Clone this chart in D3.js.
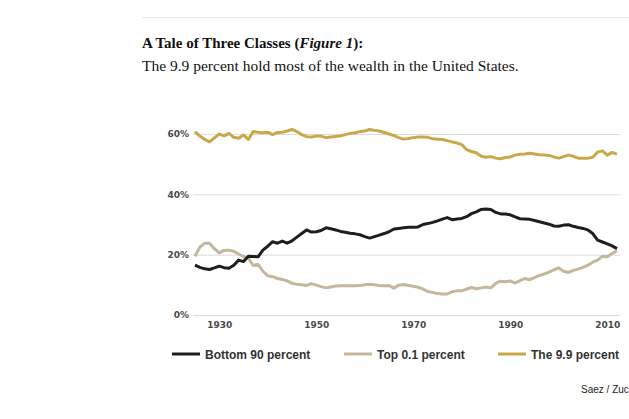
<!DOCTYPE html>
<html><head><meta charset="utf-8">
<script src="https://cdn.jsdelivr.net/npm/d3@7"></script>
<style>html,body{margin:0;padding:0;background:#fff;overflow:hidden}</style>
</head><body>
<svg id="chart" width="629" height="419"></svg>
<script>
const startYear = 1925;
const seriesNames = ["Bottom 90 percent", "Top 0.1 percent", "The 9.9 percent"];
const bottom90 = [16.5,15.8,15.3,15.1,15.6,16.2,15.7,15.5,16.5,18.2,17.7,19.5,19.4,19.3,21.5,22.8,24.3,23.8,24.5,23.8,24.6,25.8,27.0,28.2,27.5,27.6,28.0,28.9,28.6,28.2,27.7,27.4,27.1,26.9,26.6,26.0,25.5,26.0,26.5,27.0,27.6,28.5,28.7,28.9,29.1,29.1,29.2,30.0,30.3,30.7,31.2,31.8,32.3,31.6,31.8,32.0,32.6,33.6,34.2,35.0,35.1,35.0,34.0,33.5,33.5,33.2,32.5,31.9,31.8,31.7,31.3,30.9,30.5,30.1,29.5,29.4,29.8,29.9,29.4,29.0,28.7,28.2,27.0,24.8,24.2,23.6,22.9,22.0];
const top01 = [19.5,22.5,23.8,23.8,22.0,20.6,21.4,21.5,21.1,20.2,19.4,18.8,16.4,16.8,14.5,13.0,12.7,12.1,11.8,11.3,10.5,10.2,10.0,9.8,10.4,9.9,9.4,9.0,9.3,9.6,9.7,9.7,9.7,9.7,9.8,10.0,10.2,10.0,9.8,9.7,9.8,8.9,9.9,10.1,9.8,9.5,9.2,8.6,7.8,7.5,7.1,7.0,7.0,7.7,8.0,8.0,8.6,9.1,8.7,9.0,9.3,9.0,10.5,11.2,11.0,11.3,10.6,11.4,12.1,11.7,12.4,13.1,13.6,14.2,15.0,15.6,14.5,14.1,14.8,15.2,15.8,16.5,17.5,18.2,19.5,19.3,20.4,21.3];
const nineNine = [60.8,59.3,58.2,57.4,58.7,60.0,59.4,60.2,58.9,58.6,59.7,58.2,60.8,60.6,60.4,60.6,59.8,60.5,60.6,61.0,61.5,60.8,59.8,59.1,59.0,59.3,59.3,58.8,59.0,59.2,59.4,59.8,60.2,60.4,60.8,61.0,61.5,61.2,61.0,60.5,60.0,59.5,58.8,58.3,58.5,58.8,59.0,59.0,58.9,58.4,58.3,58.2,57.8,57.4,57.0,56.5,54.8,54.2,53.8,52.6,52.3,52.5,52.0,51.8,52.2,52.4,53.0,53.3,53.4,53.6,53.4,53.1,53.0,52.9,52.4,52.0,52.5,53.0,52.6,52.0,52.0,52.0,52.3,54.0,54.4,53.0,53.9,53.3];
const yTicks = [0, 20, 40, 60];
const xTicks = [1930, 1950, 1970, 1990, 2010];
const colors = ["#1e1e1e", "#c5b79c", "#c9a84a"];

const years = bottom90.map((d, i) => startYear + i);
const svg = d3.select("#chart");

const x = d3.scaleLinear().domain([startYear, startYear + bottom90.length - 1]).range([195, 617]);
const y = d3.scaleLinear().domain([0, 60]).range([315, 134]);

// top rule
svg.append("line").attr("x1", 142).attr("x2", 629).attr("y1", 17.5).attr("y2", 17.5)
  .attr("stroke", "#e6e6e6").attr("stroke-width", 1);

// title
const t = svg.append("text").attr("x", 142).attr("y", 48)
  .attr("font-family", "Liberation Serif, serif").attr("font-size", 15).attr("font-weight", "bold").attr("fill", "#111");
t.append("tspan").text("A Tale of Three Classes (");
t.append("tspan").attr("font-style", "italic").text("Figure 1");
t.append("tspan").text("):");

svg.append("text").attr("x", 142).attr("y", 71)
  .attr("font-family", "Liberation Serif, serif").attr("font-size", 15.5).attr("fill", "#111")
  .text("The 9.9 percent hold most of the wealth in the United States.");

// grid
const yAxis = d3.axisLeft(y).tickValues(yTicks).tickSize(-427).tickFormat(d => d + "%").tickPadding(4);
const gy = svg.append("g").attr("transform", "translate(193,0)").call(yAxis);
gy.select(".domain").remove();
gy.selectAll(".tick line").attr("stroke", "#dcdcdc").attr("stroke-width", 1);
gy.selectAll(".tick text").attr("font-family", "DejaVu Sans, sans-serif").attr("font-weight", "bold")
  .attr("font-size", 9).attr("fill", "#4a4a4a");

const xAxis = d3.axisBottom(x).tickValues(xTicks).tickSize(0).tickFormat(d3.format("d")).tickPadding(7);
const gx = svg.append("g").attr("transform", "translate(0,315)").call(xAxis);
gx.select(".domain").remove();
gx.selectAll(".tick text").attr("font-family", "DejaVu Sans, sans-serif").attr("font-weight", "bold")
  .attr("font-size", 9).attr("fill", "#4a4a4a");

// lines
const series = [bottom90, top01, nineNine];
const line = d3.line().x((d, i) => x(years[i])).y(d => y(d)).curve(d3.curveLinear);
[1, 0, 2].forEach(k => {
  svg.append("path").datum(series[k]).attr("d", line)
    .attr("fill", "none").attr("stroke", colors[k]).attr("stroke-width", 3)
    .attr("stroke-linejoin", "round").attr("stroke-linecap", "butt");
});

// legend
const legX = [172, 344, 498];
seriesNames.forEach((n, i) => {
  svg.append("line").attr("x1", legX[i]).attr("x2", legX[i] + 28).attr("y1", 354).attr("y2", 354)
    .attr("stroke", colors[i]).attr("stroke-width", 3);
  svg.append("text").attr("x", legX[i] + 33).attr("y", 358.5)
    .attr("font-family", "Liberation Sans, Arial, sans-serif").attr("font-weight", "bold").attr("font-size", 12)
    .attr("fill", "#333").text(n);
});

// source note: the reference shows it running off the right edge
svg.append("text").attr("x", 581).attr("y", 393)
  .attr("font-family", "Liberation Sans, Arial, sans-serif").attr("font-size", 10).attr("fill", "#222")
  .text("Saez / Zucman");
</script>
</body></html>
